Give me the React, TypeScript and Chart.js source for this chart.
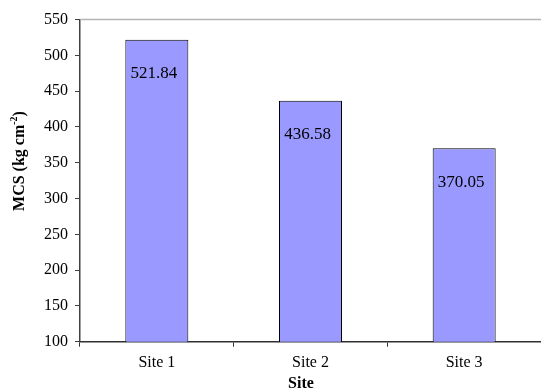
import React, { useEffect, useRef } from "react";
import { Chart, registerables } from "chart.js";

Chart.register(...registerables);

// Mean MCS per site
const sites = ["Site 1", "Site 2", "Site 3"];
const mcsValues = [521.84, 436.58, 370.05];
const valueLabels = ["521.84", "436.58", "370.05"];

const yMin = 100;
const yMax = 550;
const yStep = 50;

const SERIF = "'Liberation Serif', 'Times New Roman', serif";

// Frame: light top border of the plot area
const framePlugin = {
  id: "frame",
  afterDraw(chart: any) {
    const { ctx, chartArea } = chart;
    ctx.save();
    ctx.strokeStyle = "#b4b4b4";
    ctx.lineWidth = 1.5;
    ctx.beginPath();
    ctx.moveTo(chartArea.left, chartArea.top);
    ctx.lineTo(chartArea.right, chartArea.top);
    ctx.stroke();
    ctx.restore();
  },
};

// Value labels inside each bar, below the top edge
const valueLabelPlugin = {
  id: "valueLabels",
  afterDatasetsDraw(chart: any) {
    const { ctx } = chart;
    const meta = chart.getDatasetMeta(0);
    ctx.save();
    ctx.font = `17px ${SERIF}`;
    ctx.fillStyle = "#000";
    ctx.textAlign = "center";
    ctx.textBaseline = "middle";
    meta.data.forEach((bar: any, i: number) => {
      ctx.fillText(valueLabels[i], bar.x - 3, bar.y + 34);
    });
    ctx.restore();
  },
};

// Axis titles, with the superscript unit on the y title
const axisTitlePlugin = {
  id: "axisTitles",
  afterDraw(chart: any) {
    const { ctx } = chart;
    ctx.save();
    ctx.fillStyle = "#000";

    // x title
    ctx.font = `bold 16px ${SERIF}`;
    ctx.textAlign = "center";
    ctx.textBaseline = "middle";
    ctx.fillText("Site", 301, 384);

    // y title: "MCS (kg cm" + sup "-2" + ")"
    const main = `bold 16px ${SERIF}`;
    const sup = `bold 10px ${SERIF}`;
    const p1 = "MCS (kg cm";
    const p2 = "-2";
    const p3 = ")";
    ctx.font = main;
    const w1 = ctx.measureText(p1).width;
    const w3 = ctx.measureText(p3).width;
    ctx.font = sup;
    const w2 = ctx.measureText(p2).width;
    const total = w1 + w2 + w3;
    ctx.translate(20, 161);
    ctx.rotate(-Math.PI / 2);
    ctx.textAlign = "left";
    ctx.textBaseline = "middle";
    let x = -total / 2;
    ctx.font = main;
    ctx.fillText(p1, x, 0);
    x += w1;
    ctx.font = sup;
    ctx.fillText(p2, x, -6);
    x += w2;
    ctx.font = main;
    ctx.fillText(p3, x, 0);
    ctx.restore();
  },
};

export default function App() {
  const canvasRef = useRef<HTMLCanvasElement | null>(null);

  useEffect(() => {
    if (!canvasRef.current) return;
    const chart = new Chart(canvasRef.current, {
      type: "bar",
      data: {
        labels: sites,
        datasets: [
          {
            data: mcsValues,
            backgroundColor: "#9999ff",
            borderColor: "#000000",
            borderWidth: 1,
            borderSkipped: "bottom",
            categoryPercentage: 1,
            barPercentage: 0.41,
          },
        ],
      },
      options: {
        responsive: false,
        animation: false,
        devicePixelRatio: 1,
        layout: { padding: { top: 19.5, right: 0, left: 0, bottom: 0 } },
        plugins: {
          legend: { display: false },
          tooltip: { enabled: false },
          title: { display: false },
        },
        scales: {
          x: {
            grid: {
              offset: true,
              drawOnChartArea: false,
              drawTicks: true,
              tickLength: 5,
              color: "#303030",
              lineWidth: 1,
            },
            border: { display: true, color: "#303030", width: 1.5 },
            ticks: {
              color: "#000",
              padding: 6,
              font: { family: SERIF, size: 16 },
            },
            afterFit(scale: any) {
              scale.height = 48.3;
            },
          },
          y: {
            min: yMin,
            max: yMax,
            grid: {
              drawOnChartArea: false,
              drawTicks: true,
              tickLength: 5,
              color: "#404040",
              lineWidth: 1,
            },
            border: { display: true, color: "#404040", width: 1.5 },
            ticks: {
              stepSize: yStep,
              color: "#000",
              padding: 7,
              font: { family: SERIF, size: 16 },
            },
            afterFit(scale: any) {
              scale.width = 80;
            },
          },
        },
      },
      plugins: [framePlugin, valueLabelPlugin, axisTitlePlugin],
    });
    return () => chart.destroy();
  }, []);

  return (
    <div
      style={{
        position: "fixed",
        left: 0,
        top: 0,
        width: 541,
        height: 390,
        background: "#fff",
      }}
    >
      <canvas ref={canvasRef} width={541} height={390} />
    </div>
  );
}
